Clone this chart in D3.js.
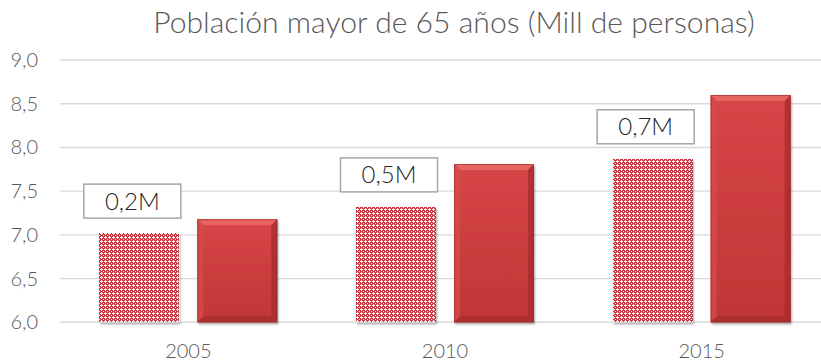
<!DOCTYPE html>
<html>
<head>
<meta charset="utf-8">
<script src="https://cdn.jsdelivr.net/npm/d3@7"></script>
<style>
  html, body { margin: 0; padding: 0; background: #ffffff; }
  svg { display: block; }
</style>
</head>
<body>
<svg id="chart" width="821" height="364"></svg>
<script>
// ---- data ----
const years = ["2005", "2010", "2015"];
const initialValues = [7.02, 7.32, 7.87];   // patterned bars
const finalValues = [7.18, 7.81, 8.60];     // solid bars
const yTicks = [6.0, 6.5, 7.0, 7.5, 8.0, 8.5, 9.0];
const titleText = "Población mayor de 65 años (Mill de personas)";

// ---- layout ----
const W = 821, H = 364;
const plot = { left: 60, right: 830, top: 60, bottom: 322.3 };
const FONT = "'Lato', 'Open Sans', 'DejaVu Sans', sans-serif";
const TEXT_GREY = "#595959";

const svg = d3.select("#chart");
const defs = svg.append("defs");

const x = d3.scaleBand().domain(years).range([plot.left, plot.right]).paddingInner(0).paddingOuter(0);
const inner = d3.scaleBand().domain([0, 1]).range([-89, 89]).paddingInner(18 / 98).paddingOuter(0);
const y = d3.scaleLinear().domain([6, 9]).range([plot.bottom, plot.top]);
const comma = d3.formatLocale({ decimal: ",", thousands: ".", grouping: [3], currency: ["", "€"] });
const fmtTick = comma.format(".1f");
const fmtDiff = v => comma.format(".1f")(v) + "M";

// small red/white lattice used by the first series
const pat = defs.append("pattern")
  .attr("id", "lattice").attr("patternUnits", "userSpaceOnUse")
  .attr("width", 4).attr("height", 4);
pat.append("rect").attr("width", 4).attr("height", 4).attr("fill", "#cc3842");
[[1, 0], [0, 1], [1, 1], [2, 1], [1, 2], [3, 3]].forEach(([px, py]) => {
  pat.append("rect").attr("x", px).attr("y", py).attr("width", 1).attr("height", 1)
    .attr("fill", "#ffffff").attr("opacity", 0.9);
});

// body gradient for the solid bars
const grad = defs.append("linearGradient").attr("id", "solidBody")
  .attr("x1", 0).attr("y1", 0).attr("x2", 0).attr("y2", 1);
grad.append("stop").attr("offset", "0%").attr("stop-color", "#d84647");
grad.append("stop").attr("offset", "100%").attr("stop-color", "#c03536");

// soft shadow under bars
const flt = defs.append("filter").attr("id", "shadow")
  .attr("x", "-10%").attr("y", "-10%").attr("width", "125%").attr("height", "125%");
flt.append("feGaussianBlur").attr("in", "SourceAlpha").attr("stdDeviation", 1.3).attr("result", "b");
flt.append("feOffset").attr("in", "b").attr("dx", 1.2).attr("dy", 1.6).attr("result", "o");
flt.append("feComponentTransfer").attr("in", "o").attr("result", "s")
  .append("feFuncA").attr("type", "linear").attr("slope", 0.35);
const fm = flt.append("feMerge");
fm.append("feMergeNode").attr("in", "s");
fm.append("feMergeNode").attr("in", "SourceGraphic");

// ---- title ----
const title = svg.append("text")
  .attr("x", 454).attr("y", 33)
  .attr("text-anchor", "middle")
  .attr("font-family", FONT).attr("font-weight", 300)
  .attr("font-size", 26).attr("fill", TEXT_GREY)
  .text(titleText);
const tw = title.node().getComputedTextLength();
title.attr("font-size", 26 * 602 / tw);

// ---- gridlines ----
svg.append("g").selectAll("line").data(yTicks).join("line")
  .attr("x1", plot.left).attr("x2", W)
  .attr("y1", d => y(d)).attr("y2", d => y(d))
  .attr("stroke", "#d9d9d9").attr("stroke-width", 1.4);

// ---- y tick labels ----
svg.append("g").selectAll("text").data(yTicks).join("text")
  .attr("x", 38).attr("y", d => y(d) + 7)
  .attr("text-anchor", "end")
  .attr("font-family", FONT).attr("font-weight", 300)
  .attr("font-size", 20).attr("fill", TEXT_GREY)
  .text(d => fmtTick(d));

// ---- x labels ----
svg.append("g").selectAll("text").data(years).join("text")
  .attr("x", d => x(d) + x.bandwidth() / 2).attr("y", 358)
  .attr("text-anchor", "middle")
  .attr("font-family", FONT).attr("font-weight", 300)
  .attr("font-size", 20).attr("fill", TEXT_GREY)
  .text(d => d);

const rows = years.map((yr, i) => ({ year: yr, a: initialValues[i], b: finalValues[i] }));
const cx = d => x(d.year) + x.bandwidth() / 2;
const bw = inner.bandwidth();

// ---- patterned bars ----
const gA = svg.append("g").selectAll("g").data(rows).join("g");
gA.append("rect")
  .attr("x", d => cx(d) + inner(0)).attr("y", d => y(d.a))
  .attr("width", bw).attr("height", d => y(6) - y(d.a))
  .attr("fill", "#ffffff").attr("filter", "url(#shadow)");
gA.append("rect")
  .attr("x", d => cx(d) + inner(0)).attr("y", d => y(d.a))
  .attr("width", bw).attr("height", d => y(6) - y(d.a))
  .attr("fill", "url(#lattice)").attr("shape-rendering", "crispEdges");

// ---- solid bevelled bars ----
const B = 6;
const gB = svg.append("g").selectAll("g").data(rows).join("g");
gB.append("rect")
  .attr("x", d => cx(d) + inner(1)).attr("y", d => y(d.b))
  .attr("width", bw).attr("height", d => y(6) - y(d.b))
  .attr("fill", "url(#solidBody)").attr("filter", "url(#shadow)");
function bevel(d, side) {
  const x0 = cx(d) + inner(1), x1 = x0 + bw, y0 = y(d.b), y1 = y(6);
  if (side === "top") return [[x0, y0], [x1, y0], [x1 - B, y0 + B], [x0 + B, y0 + B]];
  if (side === "left") return [[x0, y0], [x0 + B, y0 + B], [x0 + B, y1 - B], [x0, y1]];
  if (side === "right") return [[x1, y0], [x1, y1], [x1 - B, y1 - B], [x1 - B, y0 + B]];
  return [[x0, y1], [x0 + B, y1 - B], [x1 - B, y1 - B], [x1, y1]];
}
const bevelFill = { top: "#ea6a66", left: "#d34a4a", right: "#a92c2e", bottom: "#a8302f" };
["top", "left", "right", "bottom"].forEach(side => {
  gB.append("polygon")
    .attr("points", d => bevel(d, side).map(p => p.join(",")).join(" "))
    .attr("fill", bevelFill[side]).attr("opacity", 0.8);
});
gB.append("rect")
  .attr("x", d => cx(d) + inner(1) + 0.5).attr("y", d => y(d.b) + 0.5)
  .attr("width", bw - 1).attr("height", d => y(6) - y(d.b) - 1)
  .attr("fill", "none").attr("stroke", "#9a2a2a").attr("stroke-width", 1).attr("opacity", 0.6);

// ---- difference callouts ----
const boxW = 97, boxH = 34;
const gL = svg.append("g").selectAll("g").data(rows).join("g")
  .attr("transform", d => {
    const c = cx(d) + inner(0) + bw / 2 - 7;
    return `translate(${c - boxW / 2},${y(d.a) - 15 - boxH})`;
  });
gL.append("rect")
  .attr("width", boxW).attr("height", boxH)
  .attr("fill", "#ffffff").attr("stroke", "#a6a6a6").attr("stroke-width", 1.5);
gL.append("text")
  .attr("x", boxW / 2).attr("y", boxH / 2 + 8.5)
  .attr("text-anchor", "middle")
  .attr("font-family", FONT).attr("font-weight", 300)
  .attr("font-size", 24).attr("fill", "#262626")
  .text(d => fmtDiff(d.b - d.a));
</script>
</body>
</html>
